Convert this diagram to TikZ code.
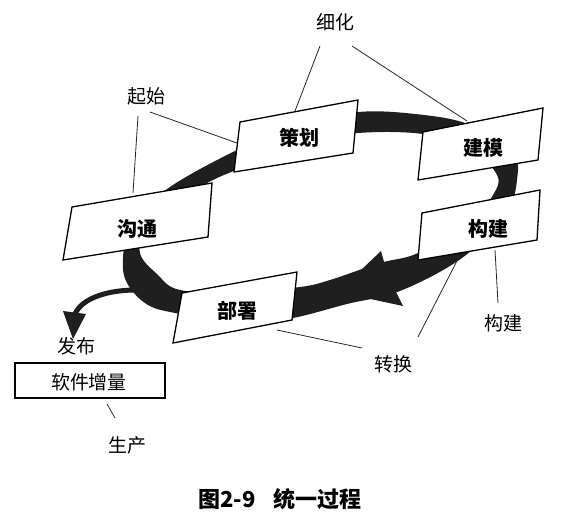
\documentclass[tikz,border=0pt]{standalone}
\usepackage{fontspec}
\newfontfamily\cjk{Noto Sans CJK SC}
\begin{document}
\begin{tikzpicture}[x=1pt,y=-1pt,
  lbl/.style={font=\cjk\fontsize{19}{19}\selectfont, inner sep=0pt},
  boxtxt/.style={font=\cjk\bfseries\fontsize{20}{20}\selectfont, inner sep=0pt},
  captxt/.style={font=\cjk\bfseries\fontsize{22}{22}\selectfont, inner sep=0pt},
  leader/.style={line width=0.8pt, draw=black!85},
  boxline/.style={draw=black, line width=1.3pt, fill=white},
  shadowfill/.style={fill=black!90},
  bandfill/.style={fill=black!88}]
\useasboundingbox (0,0) rectangle (571,528);

% ring band
\fill[bandfill, even odd rule]
  plot[smooth cycle, tension=0.6] coordinates {(123,258) (131,225) (167,189) (237,150) (300,124) (358,112) (415,114) (468,124) (512,150) (517,180) (505,215) (462,258) (400,291) (347,304) (293,318) (240,325) (180,314) (148,305) (127,283)}
  plot[smooth cycle, tension=0.6] coordinates {(140,253) (146,225) (175,200) (213,180) (236,170) (300,143) (358,133) (423,134) (470,148) (497,175) (493,195) (470,222) (418,253) (380,263) (330,280) (300,287) (240,292) (180,290) (157,274)};
% arrow head on ring
\fill[bandfill] (338,292) -- (381,251) -- (388,276) -- (403,306) -- cycle;
% release arrow
\coordinate (relS) at (136,290);
\coordinate (relE) at (75,314);
\draw[line width=5pt, black!88] (relS) .. controls (108,290) and (82,298) .. (relE);
\fill[bandfill] (63,311) -- (86,314) -- (73,339) -- cycle;

% boxes: corners
\coordinate (a1) at (240,122); \coordinate (a2) at (358,100); \coordinate (a3) at (353,153); \coordinate (a4) at (234,172);
\coordinate (b1) at (423,132); \coordinate (b2) at (543,108); \coordinate (b3) at (538,160); \coordinate (b4) at (418,180);
\coordinate (c1) at (422,213); \coordinate (c2) at (540,190); \coordinate (c3) at (537,240); \coordinate (c4) at (418,260);
\coordinate (d1) at (72,207);  \coordinate (d2) at (212,183); \coordinate (d3) at (208,237); \coordinate (d4) at (63,260);
\coordinate (e1) at (182,293); \coordinate (e2) at (297,272); \coordinate (e3) at (292,320); \coordinate (e4) at (173,343);
\coordinate (f1) at (15,363);  \coordinate (f2) at (165,363); \coordinate (f3) at (165,398); \coordinate (f4) at (15,398);

\foreach \p in {a,b,c,d,e,f}{
  \fill[shadowfill, shift={(5,6)}] (\p1) -- (\p2) -- (\p3) -- (\p4) -- cycle;
  \draw[boxline] (\p1) -- (\p2) -- (\p3) -- (\p4) -- cycle;
}

\node[boxtxt] (cehua) at (299,138) {策划};
\node[boxtxt] (jianmo) at (483,148) {建模};
\node[boxtxt] (goujianB) at (488,229) {构建};
\node[boxtxt] (goutong) at (137,229) {沟通};
\node[boxtxt] (bushu) at (237,311) {部署};
\node[lbl] (zengliang) at (89,382) {软件增量};

% labels
\node[lbl] (xihua) at (335,22) {细化};
\node[lbl] (qishi) at (146,96) {起始};
\node[lbl] (goujianL) at (503,323) {构建};
\node[lbl] (zhuanhuan) at (393,364) {转换};
\node[lbl] (fabu) at (76,346) {发布};
\node[lbl] (shengchan) at (127,445) {生产};
\node[captxt] (caption) at (280,499) {图2-9\hspace{0.8em}统一过程};

% leader lines
\coordinate (xhA) at (320,46); \coordinate (xhB) at (352,46);
\coordinate (ceTop) at (295,111); \coordinate (jmTop) at (467,121);
\draw[leader] (xhA) -- (ceTop);
\draw[leader] (xhB) -- (jmTop);
\coordinate (qsA) at (150,112); \coordinate (qsB) at (138,116);
\coordinate (ceLeft) at (237,143); \coordinate (gtTop) at (133,193);
\draw[leader] (qsA) -- (ceLeft);
\draw[leader] (qsB) -- (gtTop);
\coordinate (gjBot) at (495,250); \coordinate (gjL) at (498,303);
\draw[leader] (gjBot) -- (gjL);
\coordinate (gjBot2) at (460,255); \coordinate (zhA) at (418,337);
\draw[leader] (gjBot2) -- (zhA);
\coordinate (bsBot) at (277,330); \coordinate (zhB) at (362,348);
\draw[leader] (bsBot) -- (zhB);
\coordinate (zlBot) at (107,404); \coordinate (scTop) at (115,418);
\draw[leader] (zlBot) -- (scTop);
\end{tikzpicture}
\end{document}
